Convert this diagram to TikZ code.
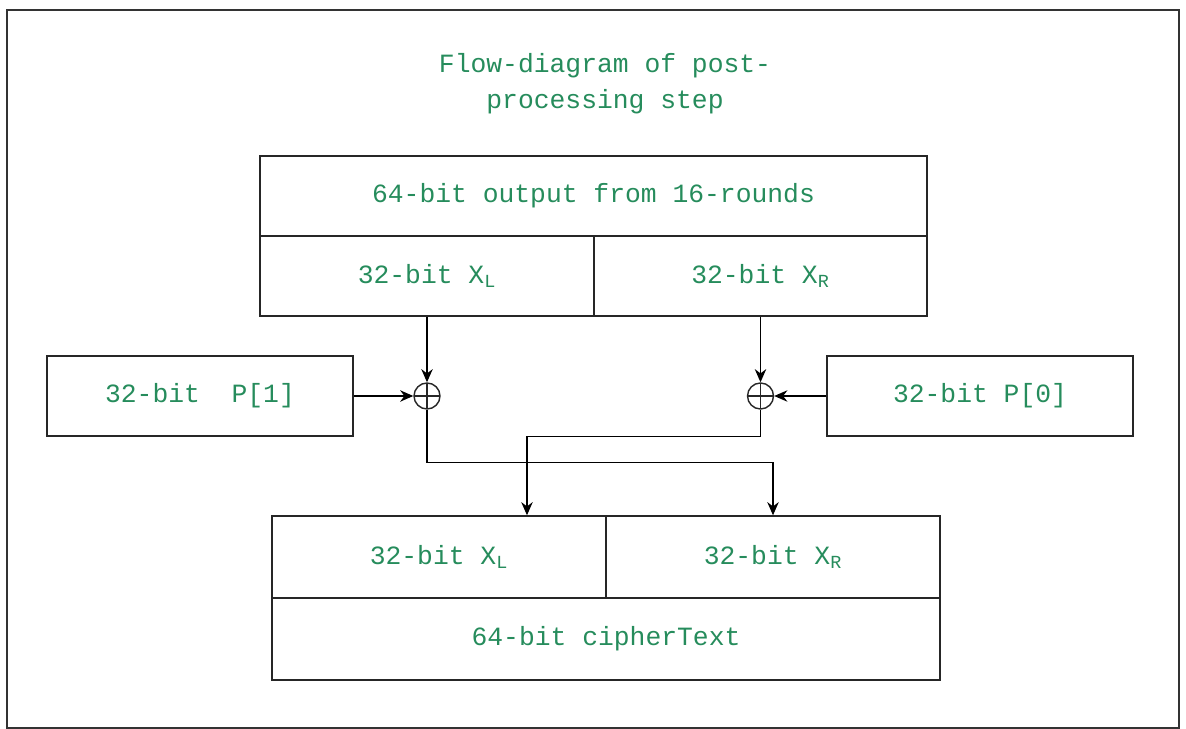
\documentclass[tikz,border=0pt]{standalone}
\usepackage{fontspec}
\setmonofont{Liberation Mono}
\usetikzlibrary{arrows.meta}
\definecolor{labelgreen}{RGB}{38,140,92}
\begin{document}
\begin{tikzpicture}[x=0.02cm, y=-0.02cm,
        cell/.style = {draw=black!85, line width=0.8pt, inner sep=0pt, text=labelgreen,
                       font=\ttfamily\fontsize{15}{20}\selectfont},
        xorop/.style = {draw=black!85, line width=0.8pt, circle, minimum size=0.52cm, inner sep=0pt,
                        path picture={\draw[line width=0.8pt] (path picture bounding box.north) -- (path picture bounding box.south)
                                      (path picture bounding box.west) -- (path picture bounding box.east);}},
        flow/.style = {line width=0.8pt, -{Stealth[length=7.5pt, width=6.5pt]}}]
        \useasboundingbox (0,0) rectangle (1186,729);
        \draw[line width=1.2pt, black!80] (7,10) rectangle (1179,728);
        \node[text=labelgreen, align=center, font=\ttfamily\fontsize{15}{20.5}\selectfont] (title) at (605,84)
            {Flow-diagram of post-\\processing step};
        \node[cell, minimum width=13.34cm, minimum height=1.6cm] (out64) at (593.5,196) {64-bit output from 16-rounds};
        \node[cell, minimum width=6.68cm, minimum height=1.6cm] (xl1) at (427,276) {32-bit X\textsubscript{L}};
        \node[cell, minimum width=6.66cm, minimum height=1.6cm] (xr1) at (760.5,276) {32-bit X\textsubscript{R}};
        \node[cell, minimum width=6.12cm, minimum height=1.6cm] (p1) at (200,396) {32-bit\ \ P[1]};
        \node[cell, minimum width=6.12cm, minimum height=1.6cm] (p0) at (980,396) {32-bit P[0]};
        \node[xorop] (xor1) at (427,396) {};
        \node[xorop] (xor2) at (760.5,396) {};
        \node[cell, minimum width=6.68cm, minimum height=1.64cm] (xl2) at (439,557) {32-bit X\textsubscript{L}};
        \node[cell, minimum width=6.68cm, minimum height=1.64cm] (xr2) at (773,557) {32-bit X\textsubscript{R}};
        \node[cell, minimum width=13.36cm, minimum height=1.64cm] (cipher) at (606,639) {64-bit cipherText};
        \draw[flow] (xl1.south) -- (xor1.north);
        \draw[flow] (xr1.south) -- (xor2.north);
        \draw[flow] (p1.east) -- (xor1.west);
        \draw[flow] (p0.west) -- (xor2.east);
        \draw[flow] (xor1.south) -- ++(0,53) -| (xr2.north);
        \draw[flow] (xor2.south) -- ++(0,27) -| ([xshift=1.76cm]xl2.north);
\end{tikzpicture}
\end{document}
